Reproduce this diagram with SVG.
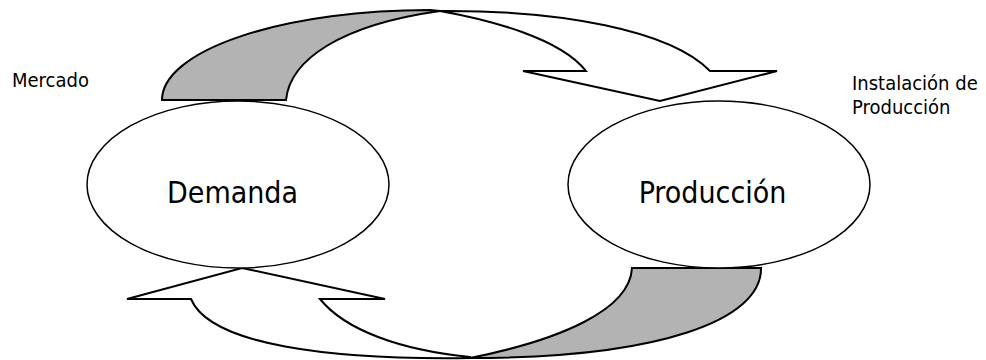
<svg xmlns="http://www.w3.org/2000/svg" width="986" height="360" viewBox="0 0 986 360">
<style>
.bg{fill:#ffffff}
.node{fill:#ffffff;stroke:#000000;stroke-width:1.5}
.arrow{fill:#ffffff;stroke:#000000;stroke-width:2;stroke-linejoin:miter}
.back{fill:#b3b3b3;stroke:#000000;stroke-width:2;stroke-linejoin:miter}
.big{font-family:"DejaVu Sans Condensed","DejaVu Sans",sans-serif;font-size:30px;fill:#000000;text-anchor:middle}
.small{font-family:"DejaVu Sans Condensed","DejaVu Sans",sans-serif;font-size:20px;fill:#000000}
</style>
<rect class="bg" x="0" y="0" width="986" height="360"/>
<g id="connectors">
  <g id="arrow-demanda-produccion">
    <path class="back" d="M162,100 A268,90 0 0 1 430,10 L440,11 C340,25 290,60 286,100 Z"/>
    <path class="arrow" d="M440,11 C560,10 670,30 710,71 L777,71 L660,101 L523,71 L586,71 C560,38 490,20 440,11 Z"/>
  </g>
  <g id="arrow-produccion-demanda">
    <path class="back" d="M632,268 L761,268 C762,320 660,358 470,358 C560,340 630,310 632,268 Z"/>
    <path class="arrow" d="M470,358 C330,360 210,345 191,299 L127,299 L242,268 L385,299 L320,299 C345,330 400,350 470,357 Z"/>
  </g>
</g>
<g id="node-demanda">
  <ellipse class="node" cx="238" cy="184.5" rx="151" ry="83.5"/>
  <text class="big" x="232.5" y="203">Demanda</text>
</g>
<g id="node-produccion">
  <ellipse class="node" cx="719" cy="184.5" rx="151" ry="83.5"/>
  <text class="big" x="712.5" y="203">Producción</text>
</g>
<g id="label-mercado">
  <text class="small" x="12" y="87">Mercado</text>
</g>
<g id="label-instalacion">
  <text class="small" x="852" y="90">Instalación de</text>
  <text class="small" x="852" y="114">Producción</text>
</g>
</svg>
